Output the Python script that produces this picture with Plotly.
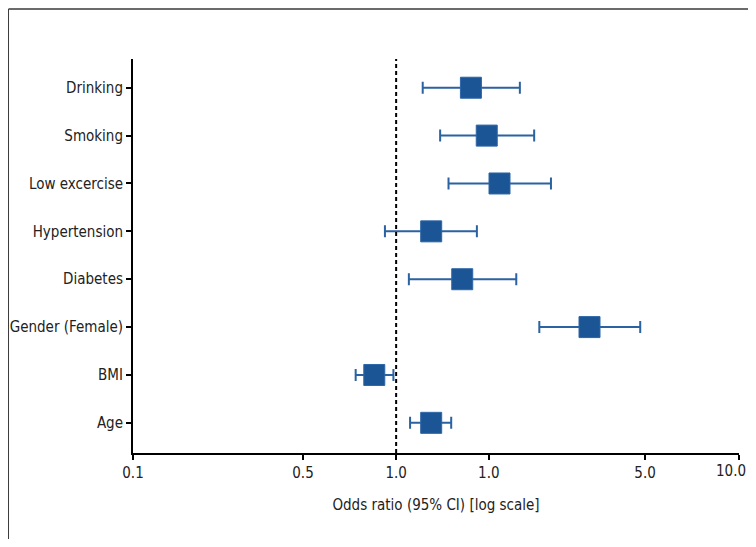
import numpy as np
import plotly.graph_objects as go

# ---- data (odds ratios with 95% CI) ----
factors = ["Age", "BMI", "Gender (Female)", "Diabetes", "Hypertension",
           "Low excercise", "Smoking", "Drinking"]
odds_ratio = [1.30, 0.85, 3.61, 1.64, 1.30, 2.13, 1.97, 1.75]
ci_low = [1.11, 0.74, 2.69, 1.10, 0.92, 1.48, 1.39, 1.22]
ci_high = [1.51, 0.98, 4.86, 2.35, 1.83, 2.88, 2.61, 2.40]

# axis ticks as drawn in the original figure (values and printed labels)
tick_or = [0.1, 0.5, 1.0, 2.0, 5.0, 10.0]
tick_text = ["0.1", "0.5", "1.0", "1.0", "5.0", "10.0"]
# position of each tick along the original (non-uniform) log axis
tick_u = [-1.0, -0.354, 0.0, 0.352, 0.946, 1.303]


def to_axis(v):
    return np.interp(np.log10(np.asarray(v, dtype=float)),
                     np.log10(tick_or), tick_u)


x_c = to_axis(odds_ratio)
x_lo = to_axis(ci_low)
x_hi = to_axis(ci_high)

FONT = "DejaVu Sans Condensed, Liberation Sans Narrow, Arial Narrow, sans-serif"
FS = 15
BLUE = "#1c5595"

fig = go.Figure()
fig.add_trace(go.Scatter(
    x=x_c, y=factors, mode="markers",
    marker=dict(symbol="square", size=21, color=BLUE,
                line=dict(color="#2d66a6", width=1)),
    error_x=dict(type="data", symmetric=False,
                 array=x_hi - x_c, arrayminus=x_c - x_lo,
                 color="#2b62a1", thickness=2, width=6),
    showlegend=False, hoverinfo="skip",
))

# reference line at OR = 1
fig.add_shape(type="line", x0=float(to_axis(1.0)), x1=float(to_axis(1.0)),
              y0=0, y1=1, yref="paper",
              line=dict(color="black", width=2, dash="4px,3px"))

# outer frame (top and left edges visible)
fig.add_shape(type="line", xref="paper", yref="paper",
              x0=-0.2054, x1=1.05, y0=1.127, y1=1.127,
              line=dict(color="#3a3a3a", width=1.5))
fig.add_shape(type="line", xref="paper", yref="paper",
              x0=-0.2054, x1=-0.2054, y0=1.127, y1=-0.26,
              line=dict(color="#3a3a3a", width=1))

# last tick label is right-aligned so it stays inside the page
fig.add_annotation(text=tick_text[-1], x=tick_u[-1], xref="x",
                   y=0, yref="paper", xanchor="right", yanchor="top",
                   xshift=9, yshift=-7, showarrow=False,
                   font=dict(family=FONT, size=FS, color="#222"))

fig.update_layout(
    width=748, height=531,
    margin=dict(l=125, r=17, t=51, b=86, autoexpand=False),
    paper_bgcolor="white", plot_bgcolor="white",
    font=dict(family=FONT, size=FS, color="#222"),
)
fig.update_xaxes(
    range=[tick_u[0], tick_u[-1]], tickmode="array",
    tickvals=tick_u, ticktext=tick_text[:-1] + [""], automargin=False,
    showline=True, linecolor="black", linewidth=2,
    ticks="outside", ticklen=5, tickwidth=2, tickcolor="black",
    showgrid=False, zeroline=False,
    tickfont=dict(size=FS),
    title=dict(text="Odds ratio (95% CI) [log scale]", font=dict(size=FS),
               standoff=18),
)
fig.update_yaxes(
    categoryorder="array", categoryarray=factors, automargin=False,
    range=[-0.63, 7.6],
    showline=True, linecolor="black", linewidth=2,
    ticks="outside", ticklen=5, tickwidth=2, tickcolor="black",
    showgrid=False, zeroline=False,
    tickfont=dict(size=FS),
)

fig.write_html("out.html")
